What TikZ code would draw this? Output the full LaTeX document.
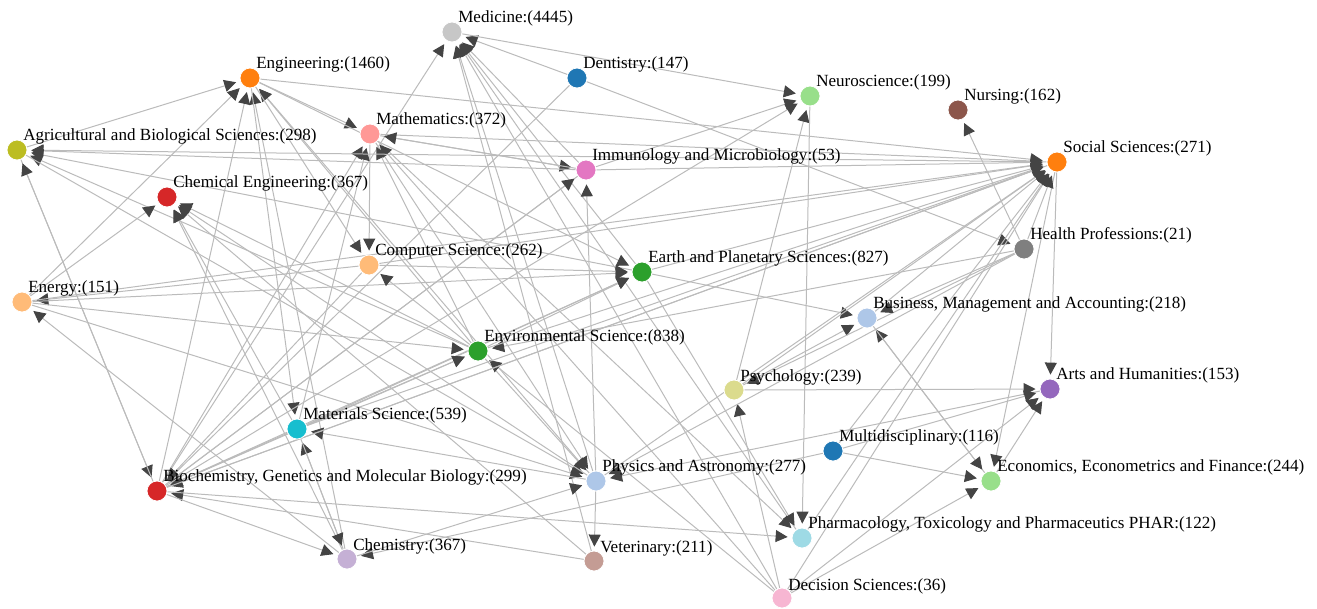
\documentclass[tikz,border=0pt]{standalone}
\usepackage{fontspec}
\setmainfont{Liberation Serif}
\usetikzlibrary{arrows.meta}
\pgfdeclarelayer{edges}
\pgfsetlayers{edges,main}
\definecolor{cmed}{HTML}{C7C7C7}
\definecolor{cblue}{HTML}{1F77B4}
\definecolor{corange}{HTML}{FF7F0E}
\definecolor{clgreen}{HTML}{98DF8A}
\definecolor{cbrown}{HTML}{8C564B}
\definecolor{cpink}{HTML}{FF9896}
\definecolor{colive}{HTML}{BCBD22}
\definecolor{cmag}{HTML}{E377C2}
\definecolor{cred}{HTML}{D62728}
\definecolor{cgray}{HTML}{7F7F7F}
\definecolor{clorange}{HTML}{FFBB78}
\definecolor{cgreen}{HTML}{2CA02C}
\definecolor{clblue}{HTML}{AEC7E8}
\definecolor{ckhaki}{HTML}{DBDB8D}
\definecolor{cpurple}{HTML}{9467BD}
\definecolor{ccyan}{HTML}{17BECF}
\definecolor{clcyan}{HTML}{9EDAE5}
\definecolor{clpurple}{HTML}{C5B0D5}
\definecolor{clbrown}{HTML}{C49C94}
\definecolor{clpink}{HTML}{F7B6D2}
\definecolor{linkgray}{HTML}{BBBBBB}
\definecolor{arrowgray}{HTML}{444444}
\tikzset{
  vtx/.style={circle, minimum size=15pt, inner sep=0pt, draw=white, line width=0.6pt, fill=#1},
  lbl/.style={anchor=base west, inner sep=0pt, text=black, font=\fontsize{12.8}{15}\selectfont},
  link/.style={draw=linkgray, line width=0.75pt, -{Triangle[length=9pt,width=9pt,color=arrowgray]}, shorten >=3pt}
}
\begin{document}
\begin{tikzpicture}[x=0.75pt,y=-0.75pt]
\useasboundingbox (0,0) rectangle (1317,608);
\clip (0,0) rectangle (1303,608);
% nodes
\node[vtx=cmed] (med) at (452,32) {};
\node[vtx=cblue] (den) at (577,78) {};
\node[vtx=corange] (eng) at (250,78) {};
\node[vtx=clgreen] (neu) at (810,96) {};
\node[vtx=cbrown] (nur) at (958,110) {};
\node[vtx=cpink] (mat) at (370,134) {};
\node[vtx=colive] (agr) at (17,150) {};
\node[vtx=cmag] (imm) at (586,170) {};
\node[vtx=corange] (soc) at (1057,162) {};
\node[vtx=cred] (che) at (167,197) {};
\node[vtx=cgray] (hea) at (1024,249) {};
\node[vtx=clorange] (cs) at (369,265) {};
\node[vtx=cgreen] (ear) at (642,272) {};
\node[vtx=clorange] (ene) at (22,302) {};
\node[vtx=clblue] (bus) at (867,318) {};
\node[vtx=cgreen] (env) at (478,351) {};
\node[vtx=ckhaki] (psy) at (734,390) {};
\node[vtx=cpurple] (art) at (1050,389) {};
\node[vtx=ccyan] (mas) at (297,429) {};
\node[vtx=cblue] (mul) at (833,451) {};
\node[vtx=cred] (bio) at (157,491) {};
\node[vtx=clblue] (phy) at (596,481) {};
\node[vtx=clgreen] (eco) at (991,481) {};
\node[vtx=clcyan] (pha) at (802,538) {};
\node[vtx=clpurple] (chm) at (347,559) {};
\node[vtx=clbrown] (vet) at (594,561) {};
\node[vtx=clpink] (dec) at (782,598) {};
% edges
\begin{pgfonlayer}{edges}
\foreach \a/\b in {
 bio/med, den/med, imm/med, ear/med, phy/med, vet/med, pha/med, dec/med,
 med/neu, den/hea, den/bio,
 agr/eng, ene/eng, chm/eng, phy/eng, env/eng, bio/eng,
 eng/mat, eng/soc, eng/mas, eng/cs, eng/ear,
 mat/cs, mat/imm, mat/phy, mat/pha, mat/soc, bio/mat, mas/mat, env/mat, dec/mat, imm/mat,
 soc/agr, imm/agr, ear/agr, env/agr, agr/bio, bio/agr, agr/phy,
 ene/che, mas/che, env/che, chm/che, phy/che, vet/che,
 cs/ene, chm/ene, ene/ear, ene/env, ene/phy, ene/soc,
 env/cs, cs/ear, cs/bio, cs/soc,
 ear/bus, ear/pha, ear/soc, env/ear, bio/ear, mas/ear,
 bio/env, mas/env, hea/env, env/phy, env/soc, dec/env,
 phy/mas, chm/mas, mas/soc, mas/bio,
 imm/bio, soc/bio, vet/bio, bio/pha, bio/chm, bio/imm,
 mas/chm, mul/chm, chm/phy,
 phy/vet, art/phy, phy/imm,
 imm/neu, bio/neu, psy/neu, neu/pha,
 psy/art, psy/bus, psy/soc, hea/psy, dec/psy,
 hea/nur, hea/bus, hea/phy,
 bus/soc, eco/bus, bus/eco,
 soc/art, eco/art, dec/art, mul/art,
 soc/eco, mul/eco, dec/eco,
 mul/soc, pha/soc, dec/soc, imm/soc, bio/soc, phy/soc, hea/soc}
 \draw[link] (\a) -- (\b);
\end{pgfonlayer}
% labels
\node[lbl] (med-l) at (458,22) {Medicine:(4445)};
\node[lbl] (den-l) at (583,68) {Dentistry:(147)};
\node[lbl] (eng-l) at (256,68) {Engineering:(1460)};
\node[lbl] (neu-l) at (816,86) {Neuroscience:(199)};
\node[lbl] (nur-l) at (964,100) {Nursing:(162)};
\node[lbl] (mat-l) at (376,124) {Mathematics:(372)};
\node[lbl] (agr-l) at (23,140) {Agricultural and Biological Sciences:(298)};
\node[lbl] (imm-l) at (592,160) {Immunology and Microbiology:(53)};
\node[lbl] (soc-l) at (1063,152) {Social Sciences:(271)};
\node[lbl] (che-l) at (173,187) {Chemical Engineering:(367)};
\node[lbl] (hea-l) at (1030,239) {Health Professions:(21)};
\node[lbl] (cs-l) at (375,255) {Computer Science:(262)};
\node[lbl] (ear-l) at (648,262) {Earth and Planetary Sciences:(827)};
\node[lbl] (ene-l) at (28,292) {Energy:(151)};
\node[lbl] (bus-l) at (873,308) {Business, Management and Accounting:(218)};
\node[lbl] (env-l) at (484,341) {Environmental Science:(838)};
\node[lbl] (psy-l) at (740,381) {Psychology:(239)};
\node[lbl] (art-l) at (1056,379) {Arts and Humanities:(153)};
\node[lbl] (mas-l) at (303,419) {Materials Science:(539)};
\node[lbl] (mul-l) at (839,441) {Multidisciplinary:(116)};
\node[lbl] (bio-l) at (163,481) {Biochemistry, Genetics and Molecular Biology:(299)};
\node[lbl] (phy-l) at (602,471) {Physics and Astronomy:(277)};
\node[lbl] (eco-l) at (997,471) {Economics, Econometrics and Finance:(244)};
\node[lbl] (pha-l) at (808,528) {Pharmacology, Toxicology and Pharmaceutics PHAR:(122)};
\node[lbl] (chm-l) at (353,550) {Chemistry:(367)};
\node[lbl] (vet-l) at (600,552) {Veterinary:(211)};
\node[lbl] (dec-l) at (788,590) {Decision Sciences:(36)};
\end{tikzpicture}
\end{document}
